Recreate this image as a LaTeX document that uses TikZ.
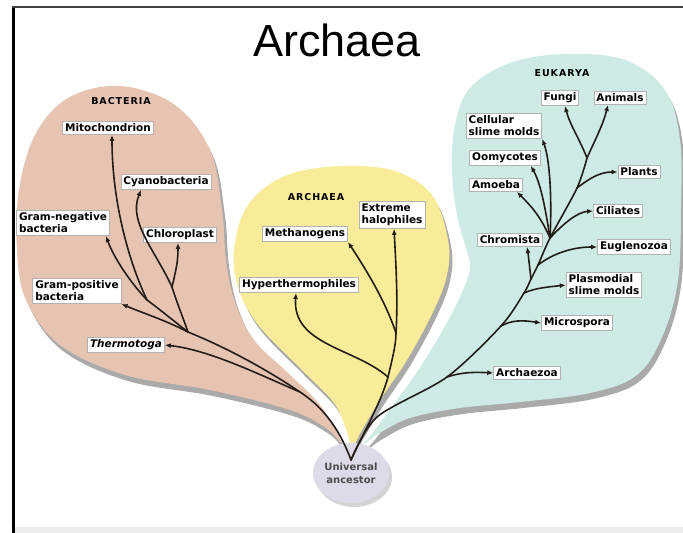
\documentclass[tikz,border=0pt]{standalone}
\usepackage{fontspec}
\setmainfont{Liberation Sans}
\newfontfamily\labfont{DejaVu Sans}
\newfontfamily\groupfont[LetterSpace=10]{DejaVu Sans}
\usetikzlibrary{arrows.meta,shapes.geometric,shadows}
\definecolor{bactpink}{RGB}{231,196,178}
\definecolor{archyellow}{RGB}{248,236,152}
\definecolor{eukteal}{RGB}{205,235,228}
\definecolor{ancestorlilac}{RGB}{222,219,233}
\definecolor{bark}{RGB}{35,28,25}
\definecolor{blobshadow}{RGB}{170,170,170}

% outlines of the three domains (pixel grid, y downwards)
\newcommand\bactblob{plot[smooth cycle, tension=0.6] coordinates {(341,442) (320,405) (287,372) (254,340) (235,302) (226,260) (222,210) (210,150) (175,105) (120,86) (68,98) (35,135) (19,190) (17,250) (26,300) (60,345) (125,375) (210,390) (290,410) (326,428)}}
\newcommand\archblob{plot[smooth cycle, tension=0.6] coordinates {(352,447) (347,432) (334,403) (301,369) (259,326) (239,290) (234,250) (248,205) (285,176) (340,166) (395,171) (432,195) (448,240) (447,275) (433,312) (407,360) (380,400) (362,430)}}
\newcommand\eukblob{plot[smooth cycle, tension=0.6] coordinates {(362,446) (375,430) (393,405) (415,375) (440,335) (460,297) (470,268) (466,248) (457,215) (452,170) (455,125) (470,88) (510,63) (565,54) (625,60) (665,90) (680,140) (681,210) (678,280) (663,335) (637,375) (590,393) (520,402) (460,408) (410,418) (378,434)}}

\begin{document}
\begin{tikzpicture}[
        x=1pt, y=-1pt,
        box/.style={draw=gray!60, fill=white, line width=0.8pt, align=left,
                    inner xsep=2.5pt, inner ysep=2.5pt,
                    font=\labfont\bfseries\fontsize{10.5}{12}\selectfont},
        group/.style={font=\groupfont\bfseries\fontsize{9.5}{11}\selectfont},
        ancestor/.style={ellipse, fill=ancestorlilac, minimum width=76pt, minimum height=60pt,
                    align=center, text=black!70, inner sep=0pt,
                    drop shadow={shadow xshift=3pt, shadow yshift=-4pt, fill=blobshadow},
                    font=\labfont\bfseries\fontsize{10}{13}\selectfont},
        branch/.style={draw=bark, line width=1.6pt, line cap=round},
        arr/.style={branch, -{Latex[length=6pt,width=5pt]}}
    ]
    \useasboundingbox (0,0) rectangle (683,533);
    \fill[white] (0,0) rectangle (683,533);
    \fill[black!8] (14,527) rectangle (683,533);
    \draw[line width=3pt] (13,533) -- (13,7);
    \draw[black!75, line width=2pt] (12,7) -- (683,7);

    \node[font=\fontsize{45}{50}\selectfont, anchor=base] (title) at (337,56) {Archaea};

    % domains with their shadows
    \begin{scope}[shift={(3,6)}]
        \fill[blobshadow] \bactblob;
        \fill[blobshadow] \archblob;
        \fill[blobshadow] \eukblob;
    \end{scope}
    \fill[bactpink] \bactblob;
    \fill[archyellow] \archblob;
    \fill[eukteal] \eukblob;

    \node[ancestor] (anc) at (351,473) {Universal\\ancestor};
    \coordinate (root) at (351,460);

    % bacteria
    \node[group] (bactlabel) at (121,101) {BACTERIA};
    \node[box] (mito) at (108,128) {Mitochondrion};
    \node[box] (cyano) at (166,182) {Cyanobacteria};
    \node[box] (gramneg) at (63,223) {Gram-negative\\bacteria};
    \node[box] (chloro) at (180,235) {Chloroplast};
    \node[box] (grampos) at (77,291) {Gram-positive\\bacteria};
    \node[box] (thermo) at (126,345) {\itshape Thermotoga};

    \coordinate (bT) at (300,392);
    \coordinate (bM) at (188,332);
    \coordinate (bA) at (147,300);
    \coordinate (bB) at (172,287);

    \draw[branch] (root) .. controls (338,425) and (320,405) .. (bT)
                         .. controls (260,365) and (220,345) .. (bM);
    \draw[branch] (bM) .. controls (170,318) and (158,308) .. (bA);
    \draw[branch] (bM) .. controls (182,315) and (176,300) .. (bB);
    \draw[arr] (bT) .. controls (260,375) and (210,350) .. (thermo.east);
    \draw[arr] (bM) .. controls (165,320) and (140,312) .. (grampos.south east);
    \draw[arr] (bA) .. controls (128,260) and (112,200) .. ([xshift=4pt]mito.south);
    \draw[arr] (bA) .. controls (130,282) and (114,258) .. ([xshift=-4pt]gramneg.south east);
    \draw[arr] (bB) .. controls (155,250) and (128,222) .. ([xshift=-25pt]cyano.south);
    \draw[arr] (bB) .. controls (176,270) and (178,262) .. ([xshift=-2pt]chloro.south);

    % archaea
    \node[group] (archlabel) at (316,197) {ARCHAEA};
    \node[box] (meth) at (305,234) {Methanogens};
    \node[box] (halo) at (392,215) {Extreme\\halophiles};
    \node[box] (hyper) at (299,285) {Hyperthermophiles};

    \coordinate (aH) at (388,377);
    \coordinate (aS) at (396,333);

    \draw[branch] (root) .. controls (365,430) and (382,400) .. (aH)
                         .. controls (392,360) and (396,345) .. (aS);
    \draw[arr] (aH) .. controls (355,348) and (292,345) .. ([xshift=-3pt]hyper.south);
    \draw[arr] (aS) .. controls (385,300) and (365,268) .. (meth.south east);
    \draw[arr] (aS) .. controls (398,300) and (396,265) .. ([xshift=2pt]halo.south);

    % eukarya
    \node[group] (euklabel) at (562,73) {EUKARYA};
    \node[box] (fungi) at (560,98) {Fungi};
    \node[box] (animals) at (620,98) {Animals};
    \node[box] (cellular) at (504,126) {Cellular\\slime molds};
    \node[box] (oomy) at (505,158) {Oomycotes};
    \node[box] (amoeba) at (496,185) {Amoeba};
    \node[box] (plants) at (639,172) {Plants};
    \node[box] (ciliates) at (618,211) {Ciliates};
    \node[box] (chromista) at (510,240) {Chromista};
    \node[box] (eugleno) at (634,247) {Euglenozoa};
    \node[box] (plasmodial) at (604,285) {Plasmodial\\slime molds};
    \node[box] (microspora) at (577,323) {Microspora};
    \node[box] (archaezoa) at (527,373) {Archaezoa};

    \coordinate (e1) at (447,377);
    \coordinate (e2) at (501,326);
    \coordinate (e3) at (524,293);
    \coordinate (eC) at (531,279);
    \coordinate (e4) at (538,265);
    \coordinate (e5) at (550,238);
    \coordinate (e6) at (577,188);
    \coordinate (e7) at (587,158);

    \draw[branch] plot[smooth, tension=0.5] coordinates {(root) (377,417) (e1) (e2) (e3) (eC) (e4) (e5) (e6) (e7)};
    \draw[arr] (e1) .. controls (462,372) and (475,372) .. (archaezoa.west);
    \draw[arr] (e2) .. controls (512,320) and (522,320) .. (microspora.west);
    \draw[arr] (e3) .. controls (535,288) and (548,287) .. (plasmodial.west);
    \draw[arr] (e4) .. controls (555,252) and (575,247) .. (eugleno.west);
    \draw[arr] (eC) .. controls (530,266) .. ([xshift=-16pt]chromista.south east);
    \draw[arr] (e5) .. controls (565,222) and (578,212) .. (ciliates.west);
    \draw[arr] (e5) .. controls (540,215) and (530,205) .. ([xshift=-6pt]amoeba.south east);
    \draw[arr] (e5) .. controls (545,205) and (540,182) .. ([xshift=-10pt]oomy.south east);
    \draw[arr] (e5) .. controls (552,200) and (550,160) .. (cellular.south east);
    \draw[arr] (e6) .. controls (590,178) and (600,172) .. (plants.west);
    \draw[arr] (e7) .. controls (580,140) and (570,125) .. ([xshift=5pt]fungi.south);
    \draw[arr] (e7) .. controls (595,140) and (603,125) .. ([xshift=-12pt]animals.south);
\end{tikzpicture}
\end{document}
